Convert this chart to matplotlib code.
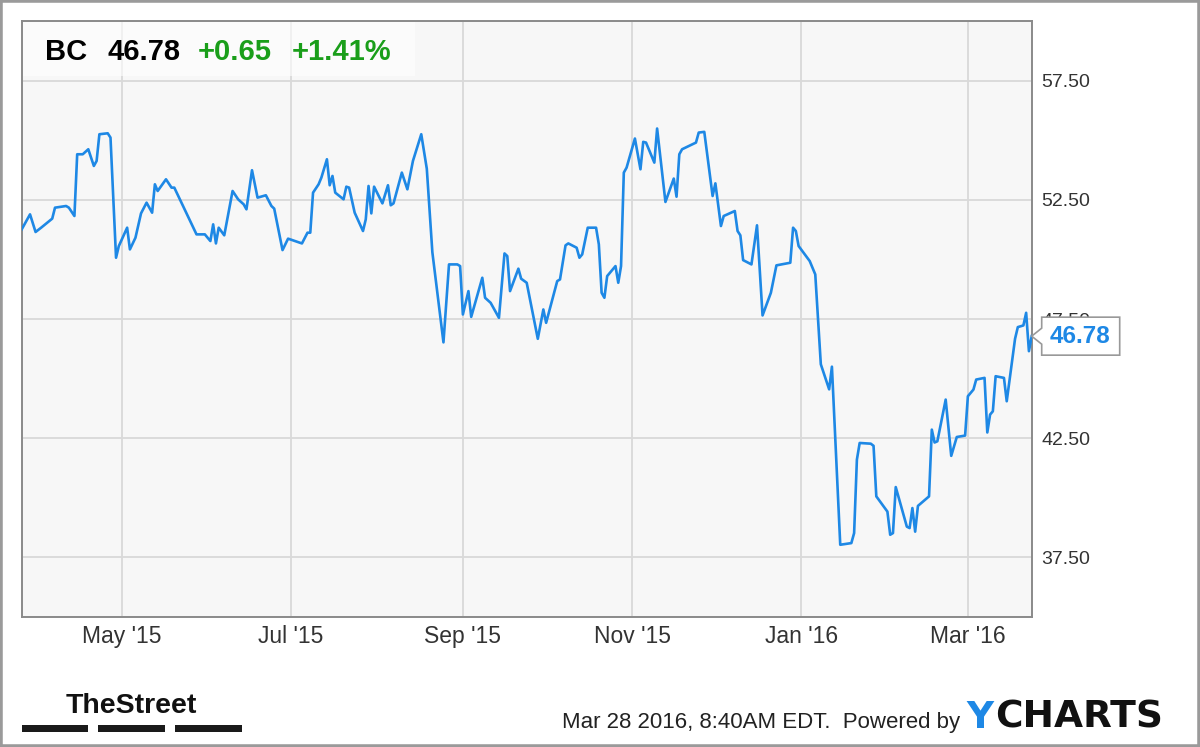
import matplotlib
matplotlib.use("Agg")
import matplotlib.pyplot as plt
import matplotlib.dates as mdates
from matplotlib.patches import Rectangle, Polygon
from matplotlib.transforms import IdentityTransform
import pandas as pd

# ---------------- data ----------------
ticker = "BC"
last_price_label = "46.78"
change_abs = "+0.65"
change_pct = "+1.41%"
timestamp = "Mar 28 2016, 8:40AM EDT."

dates = [
    "2015-03-26", "2015-03-29", "2015-03-31", "2015-04-02", "2015-04-06", "2015-04-07", "2015-04-11",
    "2015-04-12", "2015-04-14", "2015-04-15", "2015-04-17", "2015-04-19", "2015-04-21", "2015-04-22",
    "2015-04-23", "2015-04-26", "2015-04-27", "2015-04-29", "2015-04-30",
    "2015-05-03", "2015-05-04", "2015-05-06", "2015-05-08", "2015-05-10", "2015-05-12", "2015-05-13",
    "2015-05-14", "2015-05-17", "2015-05-19", "2015-05-20", "2015-05-28", "2015-05-31",
    "2015-06-02", "2015-06-03", "2015-06-04", "2015-06-05", "2015-06-07", "2015-06-10", "2015-06-12",
    "2015-06-14", "2015-06-15", "2015-06-17", "2015-06-19", "2015-06-22", "2015-06-24", "2015-06-25",
    "2015-06-28", "2015-06-30",
    "2015-07-05", "2015-07-07", "2015-07-08", "2015-07-09", "2015-07-11", "2015-07-12", "2015-07-14",
    "2015-07-15", "2015-07-16", "2015-07-17", "2015-07-20", "2015-07-21", "2015-07-22", "2015-07-24",
    "2015-07-27", "2015-07-28", "2015-07-29", "2015-07-30", "2015-07-31",
    "2015-08-03", "2015-08-05", "2015-08-06", "2015-08-07", "2015-08-10", "2015-08-12", "2015-08-14",
    "2015-08-17", "2015-08-19", "2015-08-21", "2015-08-25", "2015-08-27", "2015-08-30", "2015-08-31",
    "2015-09-01", "2015-09-03", "2015-09-04", "2015-09-08", "2015-09-09", "2015-09-11", "2015-09-14",
    "2015-09-16", "2015-09-17", "2015-09-18", "2015-09-21", "2015-09-22", "2015-09-24", "2015-09-28",
    "2015-09-30",
    "2015-10-01", "2015-10-05", "2015-10-06", "2015-10-08", "2015-10-09", "2015-10-12", "2015-10-13",
    "2015-10-14", "2015-10-16", "2015-10-19", "2015-10-20", "2015-10-21", "2015-10-22", "2015-10-23",
    "2015-10-26", "2015-10-27", "2015-10-28", "2015-10-29", "2015-10-30",
    "2015-11-02", "2015-11-04", "2015-11-05", "2015-11-06", "2015-11-09", "2015-11-10", "2015-11-13",
    "2015-11-16", "2015-11-17", "2015-11-18", "2015-11-19", "2015-11-24", "2015-11-25", "2015-11-27",
    "2015-11-30",
    "2015-12-01", "2015-12-03", "2015-12-04", "2015-12-08", "2015-12-09", "2015-12-10", "2015-12-11",
    "2015-12-14", "2015-12-16", "2015-12-18", "2015-12-21", "2015-12-23", "2015-12-28", "2015-12-29",
    "2015-12-30", "2015-12-31",
    "2016-01-04", "2016-01-06", "2016-01-08", "2016-01-11", "2016-01-12", "2016-01-15", "2016-01-19",
    "2016-01-20", "2016-01-21", "2016-01-22", "2016-01-26", "2016-01-27", "2016-01-28",
    "2016-02-01", "2016-02-02", "2016-02-03", "2016-02-04", "2016-02-08", "2016-02-09", "2016-02-10",
    "2016-02-11", "2016-02-12", "2016-02-16", "2016-02-17", "2016-02-18", "2016-02-19", "2016-02-22",
    "2016-02-24", "2016-02-26", "2016-02-29",
    "2016-03-01", "2016-03-03", "2016-03-04", "2016-03-07", "2016-03-08", "2016-03-09", "2016-03-10",
    "2016-03-11", "2016-03-14", "2016-03-15", "2016-03-18", "2016-03-19", "2016-03-21", "2016-03-22",
    "2016-03-23", "2016-03-24",
]

prices = [
    51.26, 51.89, 51.15, 51.33, 51.71, 52.17, 52.24, 52.17, 51.82, 54.41, 54.41, 54.62, 53.92, 54.13,
    55.25, 55.29, 55.11, 50.07, 50.56,
    51.33, 50.42, 50.91, 51.93, 52.38, 51.96, 53.15, 52.87, 53.36, 53.01, 53.01, 51.05, 51.05,
    50.77, 51.47, 50.67, 51.33, 51.01, 52.87, 52.52, 52.31, 52.10, 53.74, 52.59, 52.69, 52.24, 52.13,
    50.39, 50.87,
    50.67, 51.12, 51.12, 52.80, 53.15, 53.43, 54.20, 53.11, 53.50, 52.80, 52.52, 53.05, 53.01, 51.96,
    51.19, 51.68, 53.08, 51.93, 53.05,
    52.35, 53.11, 52.27, 52.35, 53.64, 52.94, 54.13, 55.25, 53.80, 50.30, 46.52, 49.79, 49.79, 49.72,
    47.69, 48.67, 47.59, 49.23, 48.39, 48.18, 47.55, 50.25, 50.14, 48.67, 49.61, 49.19, 49.02, 46.67,
    47.90,
    47.34, 49.09, 49.16, 50.59, 50.67, 50.49, 50.07, 50.21, 51.33, 51.33, 50.63, 48.60, 48.39, 49.30,
    49.72, 49.02, 49.72, 53.64, 53.85,
    55.07, 53.78, 54.93, 54.90, 54.06, 55.49, 52.41, 53.39, 52.63, 54.41, 54.62, 54.90, 55.32, 55.35,
    52.66,
    53.19, 51.40, 51.82, 52.03, 51.19, 51.01, 49.97, 49.79, 51.43, 47.65, 48.60, 49.75, 49.86, 51.33,
    51.19, 50.56,
    49.93, 49.37, 45.60, 44.55, 45.50, 38.03, 38.10, 38.52, 41.60, 42.30, 42.27, 42.18, 40.06,
    39.42, 38.45, 38.52, 40.45, 38.79, 38.73, 39.57, 38.58, 39.66, 40.06, 42.86, 42.32, 42.37, 44.12,
    41.76, 42.55, 42.61,
    44.26, 44.54, 44.96, 45.03, 42.74, 43.49, 43.63, 45.10, 45.03, 44.05, 46.67, 47.16, 47.23, 47.76,
    46.15, 46.78,
]

y_ticks = [37.5, 42.5, 47.5, 52.5, 57.5]
y_range = [35.0, 60.0]
x_tick_dates = ["2015-05-01", "2015-07-01", "2015-09-01", "2015-11-01", "2016-01-01", "2016-03-01"]
x_tick_labels = ["May '15", "Jul '15", "Sep '15", "Nov '15", "Jan '16", "Mar '16"]

# ---------------- style ----------------
FONT = ["Liberation Sans", "DejaVu Sans"]
BLUE = "#1e88e5"
GREEN = "#1a9e1a"
W, H = 1200, 747

fig = plt.figure(figsize=(W / 100, H / 100), dpi=100)
fig.patch.set_facecolor("white")


def fx(px):
    return px / W


def fy(py):
    return 1 - py / H


ax = fig.add_axes([fx(21.7), fy(617), fx(1031.7) - fx(21.7), fy(21) - fy(617)])
ax.set_facecolor("#f7f7f7")

d = pd.to_datetime(dates)
ax.plot(d, prices, color=BLUE, lw=1.9, solid_joinstyle="round", zorder=3)
ax.set_xlim(d[0], d[-1])
ax.set_ylim(*y_range)

ax.set_yticks(y_ticks)
ax.set_yticklabels([f"{v:.2f}" for v in y_ticks])
ax.set_xticks(pd.to_datetime(x_tick_dates))
ax.set_xticklabels(x_tick_labels)
ax.yaxis.tick_right()
ax.grid(True, color="#d9d9d9", lw=1.3, zorder=0)
ax.tick_params(axis="both", length=0, colors="#333333")
ax.tick_params(axis="y", pad=7, labelsize=14)
ax.tick_params(axis="x", pad=6, labelsize=16.5)
for lab in ax.get_xticklabels() + ax.get_yticklabels():
    lab.set_family(FONT)
for sp in ax.spines.values():
    sp.set_color("#8a8a8a")
    sp.set_linewidth(1.4)

# header box
fig.add_artist(Rectangle((fx(22.5), fy(76)), fx(415) - fx(22.5), fy(22) - fy(76),
                         transform=fig.transFigure, facecolor="white", alpha=0.6,
                         edgecolor="none", zorder=2))
base = fy(60)
fig.text(fx(45), base, ticker, fontsize=21, fontweight="bold", family=FONT, color="black", va="baseline")
fig.text(fx(107), base, last_price_label, fontsize=21, fontweight="bold", family=FONT, color="black", va="baseline")
fig.text(fx(198), base, change_abs, fontsize=21, fontweight="bold", family=FONT, color=GREEN, va="baseline")
fig.text(fx(292), base, change_pct, fontsize=21, fontweight="bold", family=FONT, color=GREEN, va="baseline")

# last value callout
fig.canvas.draw()
tx, ty = ax.transData.transform((mdates.date2num(d[-1]), prices[-1]))
poly = [(tx, ty), (tx + 10, ty + 8), (tx + 10, ty + 19), (tx + 88, ty + 19),
        (tx + 88, ty - 19), (tx + 10, ty - 19), (tx + 10, ty - 8)]
fig.add_artist(Polygon(poly, closed=True, transform=IdentityTransform(), facecolor="white",
                       edgecolor="#999999", lw=1.2, zorder=5))
cx, cy = fig.transFigure.inverted().transform((tx + 48, ty))
fig.text(cx, cy, last_price_label, fontsize=17.5, fontweight="bold", family=FONT, color=BLUE,
         ha="center", va="center", zorder=6)

# footer: TheStreet logo
fig.text(fx(131.5), fy(713), "TheStreet", fontsize=20.5, fontweight="bold",
         family=FONT, color="#111111", va="baseline", ha="center")
for x0, x1 in [(22, 88), (98, 165), (175, 242)]:
    fig.add_artist(Rectangle((fx(x0), fy(732)), fx(x1) - fx(x0), fy(725) - fy(732),
                             transform=fig.transFigure, facecolor="#1a1a1a", edgecolor="none"))

# footer: timestamp + YCHARTS
fig.text(fx(562), fy(728), timestamp + "  Powered by", fontsize=16, family=FONT,
         color="#222222", va="baseline")
fig.text(fx(966), fy(728), "Y", fontsize=27, fontweight="bold", family=["DejaVu Sans"],
         color=BLUE, va="baseline")
fig.text(fx(995), fy(728), "CHARTS", fontsize=27, fontweight="bold", family=["DejaVu Sans"],
         color="#111111", va="baseline")

# outer border
fig.add_artist(Rectangle((0, 0), 1, 1, transform=fig.transFigure, fill=False,
                         edgecolor="#9a9a9a", lw=4, zorder=10))

fig.savefig("out.png", dpi=100)
